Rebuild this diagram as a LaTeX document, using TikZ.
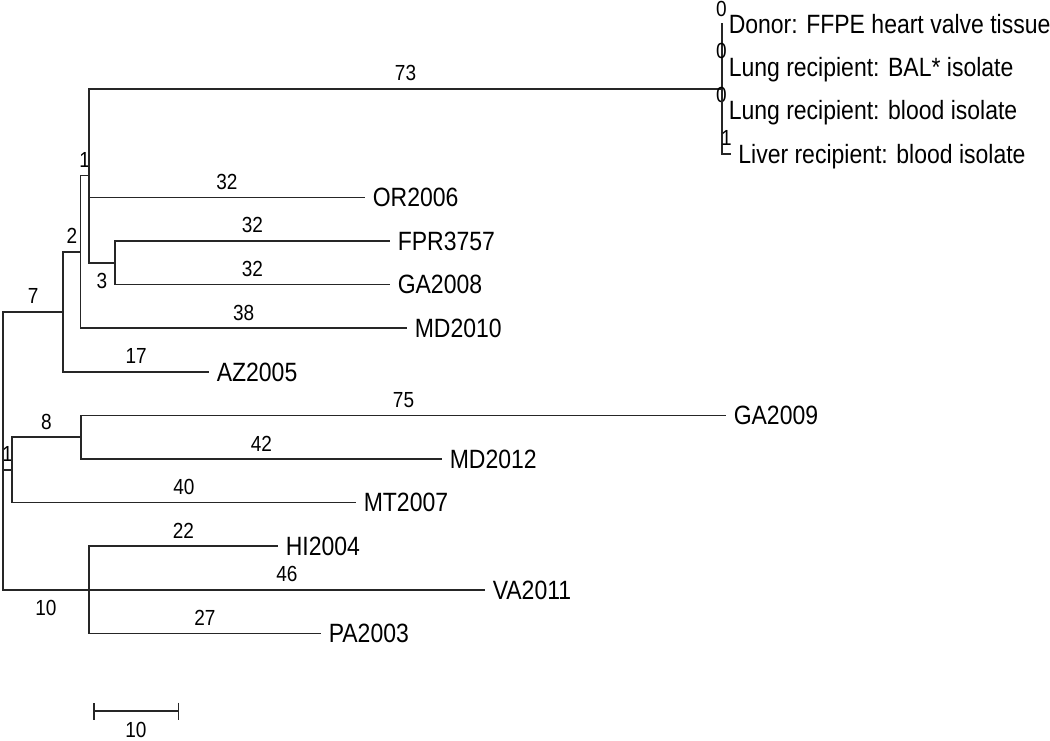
\documentclass[tikz,border=0pt]{standalone}
\usepackage{fontspec}
\setmainfont{Liberation Sans}
\usepackage{graphicx}
\usepackage{tikz}
\usetikzlibrary{arrows.meta,positioning}
\newcommand{\tall}[1]{\scalebox{1}[1.15]{#1}}

\begin{document}
\begin{tikzpicture}[x=1pt,y=-1pt,line width=1.5pt,draw=black!85,
    taxon/.style={anchor=west,inner xsep=7pt,inner ysep=0pt,text depth=0pt,font=\fontsize{23}{26}\selectfont},
    blen/.style={anchor=base,yshift=8pt,inner sep=0pt,font=\fontsize{19}{22}\selectfont},
    blenb/.style={anchor=base,yshift=-26pt,inner sep=0pt,font=\fontsize{19}{22}\selectfont}]
%
   \useasboundingbox (0,0) rectangle (1050,741);
   % inner nodes
   \coordinate (R)   at (3,450.8);
   \coordinate (N7)  at (63.2,311.9);
   \coordinate (N2)  at (80.4,251.9);
   \coordinate (N1)  at (89,175.6);
   \coordinate (N3)  at (114.8,262.8);
   \coordinate (NC)  at (722,88.9);
   \coordinate (N1b) at (12,469.9);
   \coordinate (N8)  at (81,437.2);
   \coordinate (N10) at (89,589.8);
   % taxa
   \node[taxon] (Donor)  at (721,24)      {\tall{Donor: FFPE heart valve tissue}};
   \node[taxon] (BAL)    at (721,66.6)    {\tall{Lung recipient: BAL* isolate}};
   \node[taxon] (Blood)  at (721,110.2)   {\tall{Lung recipient: blood isolate}};
   \node[taxon] (Liver)  at (730.6,153.8) {\tall{Liver recipient: blood isolate}};
   \node[taxon] (OR)     at (365,197.4)   {\tall{OR2006}};
   \node[taxon] (FPR)    at (390,241)     {\tall{FPR3757}};
   \node[taxon] (GAa)    at (390,284.6)   {\tall{GA2008}};
   \node[taxon] (MDa)    at (407,328.2)   {\tall{MD2010}};
   \node[taxon] (AZ)     at (209,371.8)   {\tall{AZ2005}};
   \node[taxon] (GAb)    at (726,415.4)   {\tall{GA2009}};
   \node[taxon] (MDb)    at (442,459)     {\tall{MD2012}};
   \node[taxon] (MT)     at (356,502.6)   {\tall{MT2007}};
   \node[taxon] (HI)     at (278,546.2)   {\tall{HI2004}};
   \node[taxon] (VA)     at (485,589.8)   {\tall{VA2011}};
   \node[taxon] (PA)     at (321,633.4)   {\tall{PA2003}};
   % branches
   \draw (R)   |- node[blen,pos=.75] {\tall{7}}  (N7);
   \draw (R)   |- node[blen,pos=.75] {\tall{1}}  (N1b);
   \draw (R)   |- node[blenb,pos=.75] {\tall{10}} (N10);
   \draw (N7)  |- node[blen,pos=.75] {\tall{2}}  (N2);
   \draw (N7)  |- node[blen,pos=.75] {\tall{17}} (AZ.west);
   \draw (N2)  |- node[blen,pos=.75] {\tall{1}}  (N1);
   \draw (N2)  |- node[blen,pos=.75] {\tall{38}} (MDa.west);
   \draw (N1)  |- node[blen,pos=.75] {\tall{73}} (NC);
   \draw (N1)  |- node[blen,pos=.75] {\tall{32}} (OR.west);
   \draw (N1)  |- node[blenb,pos=.75] {\tall{3}} (N3);
   \draw (N3)  |- node[blen,pos=.75] {\tall{32}} (FPR.west);
   \draw (N3)  |- node[blen,pos=.75] {\tall{32}} (GAa.west);
   \draw (NC)  |- node[blen,pos=.75,yshift=-.5pt] {\tall{0}}  (Donor.west);
   \draw (NC)  |- node[blen,pos=.75] {\tall{0}}  (BAL.west);
   \draw (NC)  |- node[blen,pos=.75] {\tall{0}}  (Blood.west);
   \draw (NC)  |- node[blen,pos=.75] {\tall{1}}  (Liver.west);
   \draw (N1b) |- node[blen,pos=.75] {\tall{8}}  (N8);
   \draw (N1b) |- node[blen,pos=.75] {\tall{40}} (MT.west);
   \draw (N8)  |- node[blen,pos=.75] {\tall{75}} (GAb.west);
   \draw (N8)  |- node[blen,pos=.75] {\tall{42}} (MDb.west);
   \draw (N10) |- node[blen,pos=.75] {\tall{22}} (HI.west);
   \draw (N10) |- node[blen,pos=.75] {\tall{46}} (VA.west);
   \draw (N10) |- node[blen,pos=.75] {\tall{27}} (PA.west);
   % scale bar
   \coordinate (S1) at (93,711);
   \coordinate (S2) at (179,711);
   \draw[{Bar[width=17pt]}-{Bar[width=17pt]}] (S1) -- node[blenb] {\tall{10}} (S2);
\end{tikzpicture}
\end{document}
